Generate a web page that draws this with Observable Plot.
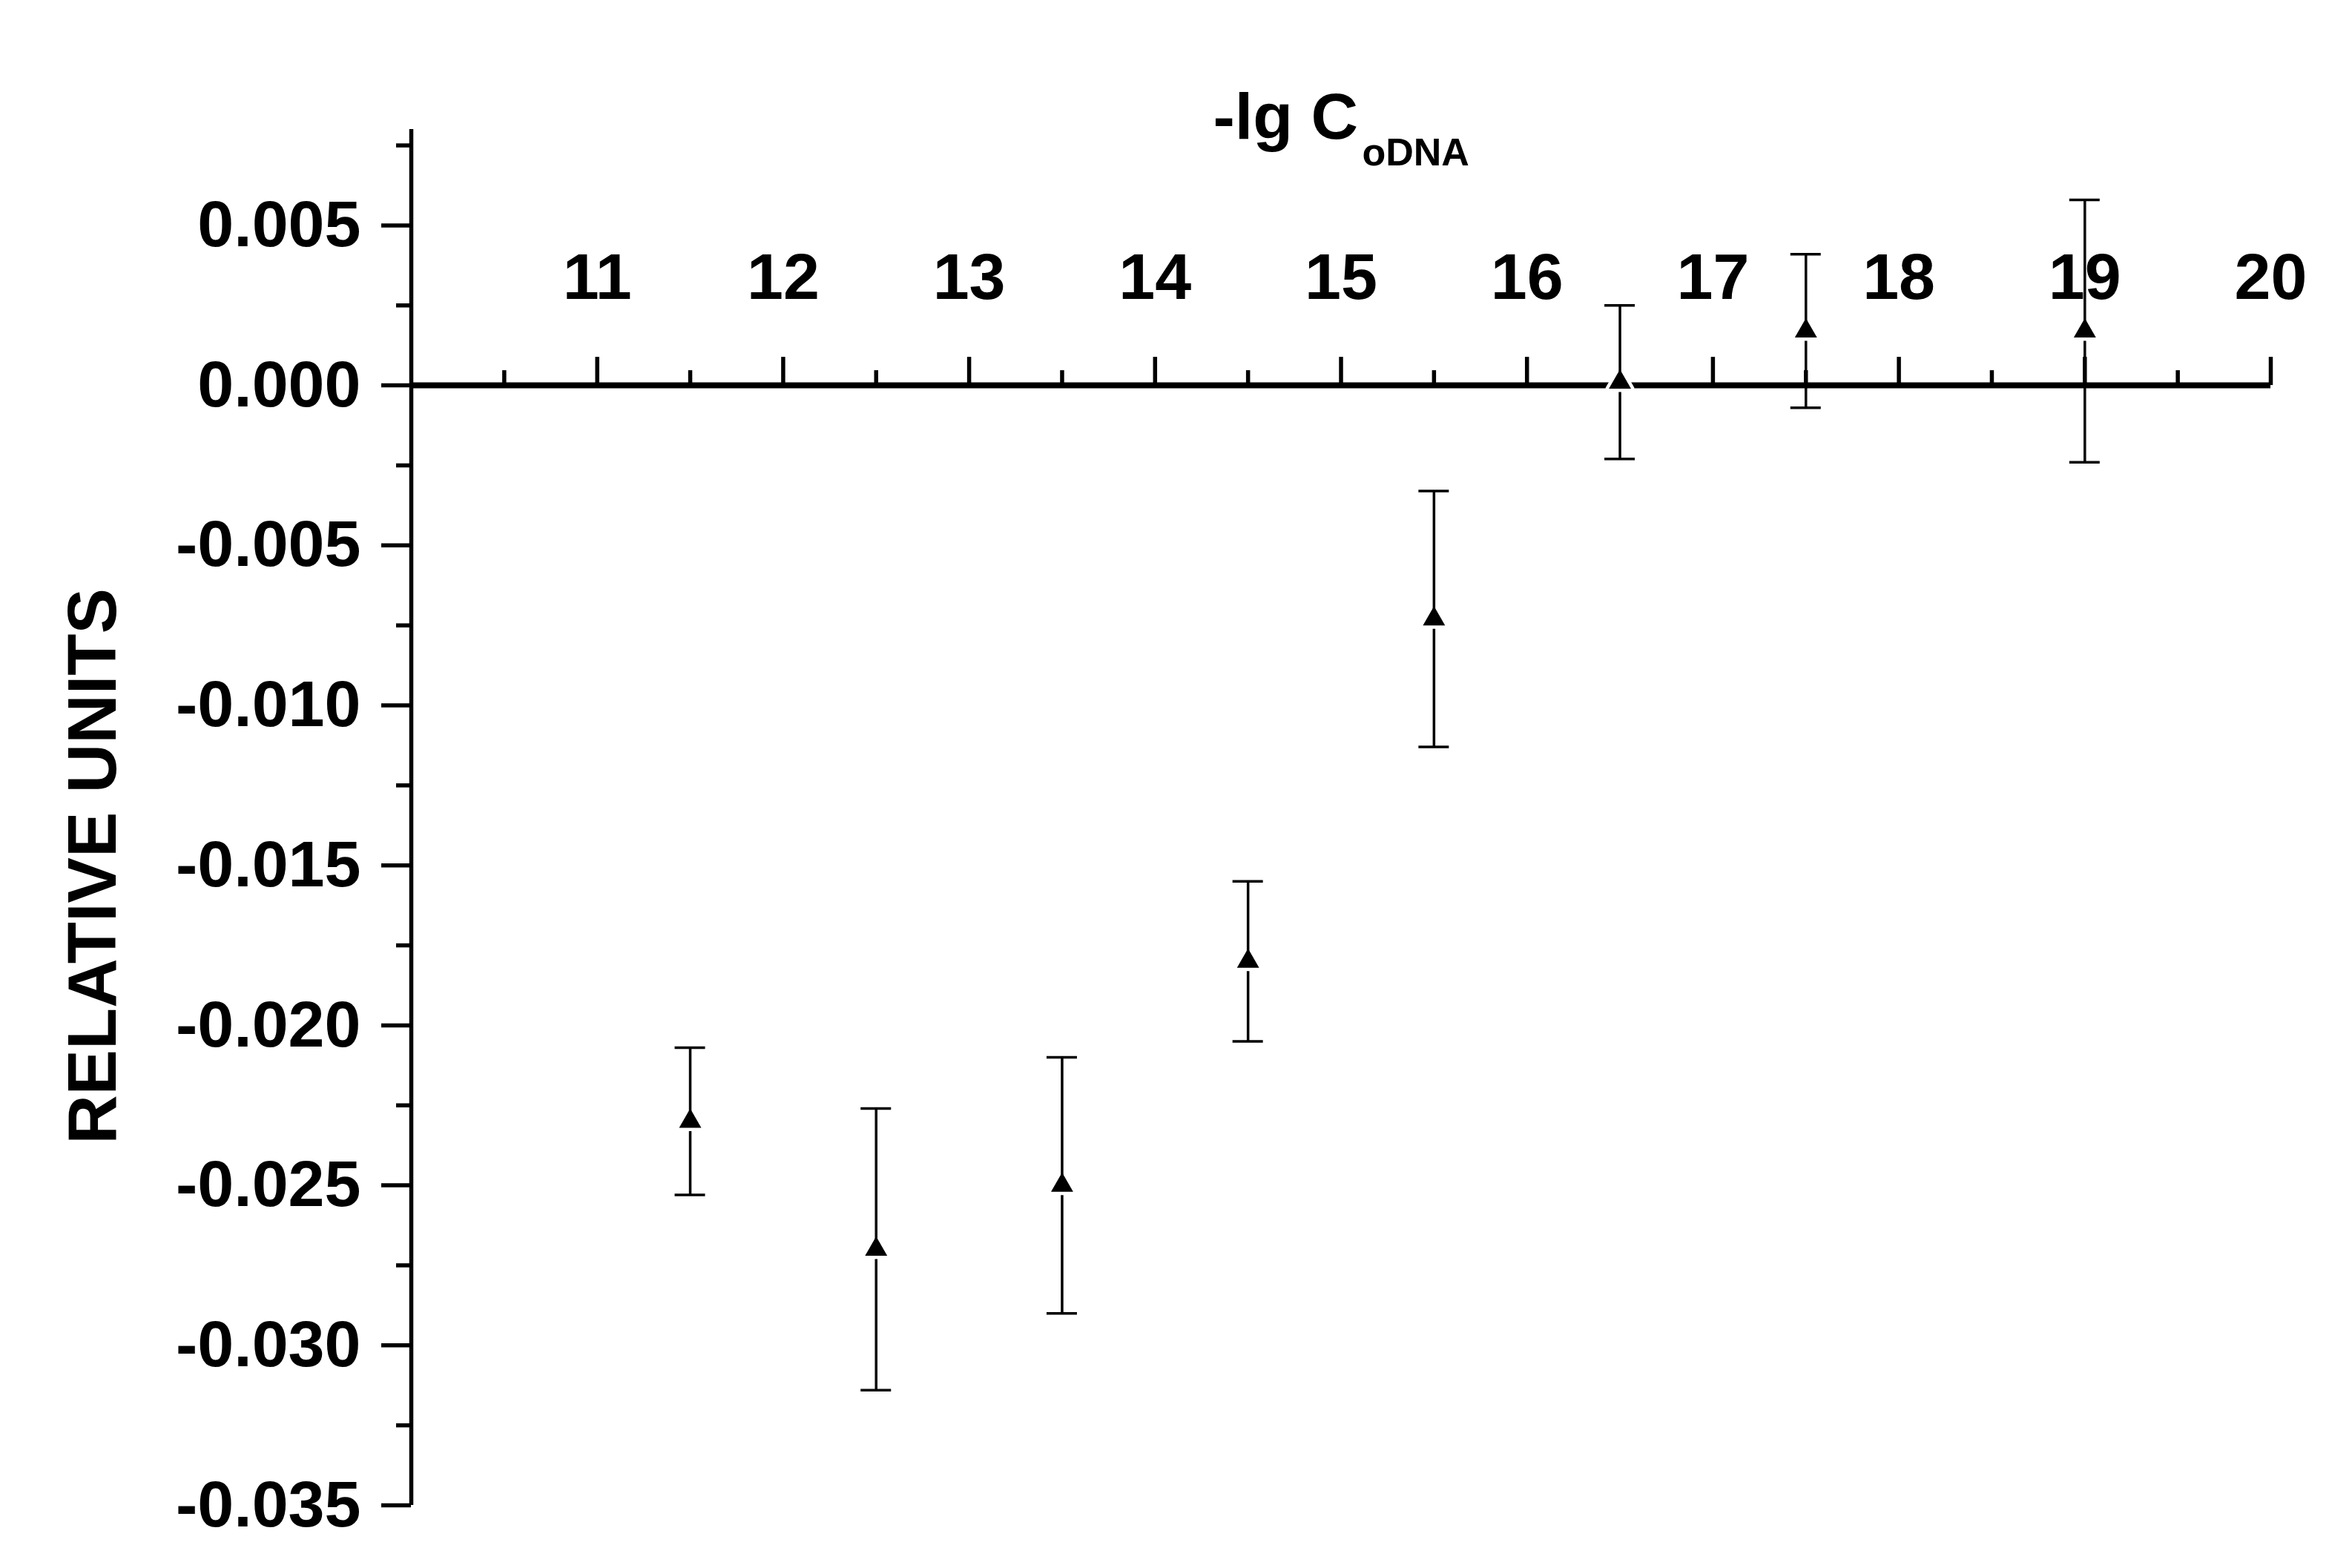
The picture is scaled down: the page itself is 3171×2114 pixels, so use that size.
<!DOCTYPE html>
<html>
<head>
<meta charset="utf-8">
<script src="https://cdn.jsdelivr.net/npm/d3@7"></script>
<script src="https://cdn.jsdelivr.net/npm/@observablehq/plot@0.6"></script>
<style>
  html, body { margin: 0; padding: 0; background: #fff; }
  #chart svg { display: block; }
</style>
</head>
<body>
<div id="chart"></div>
<script>
// ---- data ----
const concentration = [11.5, 12.5, 13.5, 14.5, 15.5, 16.5, 17.5, 19.0];
const relativeUnits = [-0.0230, -0.0270, -0.0250, -0.0180, -0.0073, 0.0001, 0.0017, 0.0017];
const errorHalf     = [0.0023, 0.0044, 0.0040, 0.0025, 0.0040, 0.0024, 0.0024, 0.0041];

const xDomain = [10, 20];
const yDomain = [-0.035, 0.008];
const xMajorTicks = [11, 12, 13, 14, 15, 16, 17, 18, 19, 20];
const xMinorTicks = [10.5, 11.5, 12.5, 13.5, 14.5, 15.5, 16.5, 17.5, 18.5, 19.5];
const yMajorTicks = [-0.035, -0.030, -0.025, -0.020, -0.015, -0.010, -0.005, 0.000, 0.005];
const yMinorTicks = [-0.0325, -0.0275, -0.0225, -0.0175, -0.0125, -0.0075, -0.0025, 0.0025, 0.0075];

const xTitle = "-lg C";
const xTitleSub = "oDNA";
const yTitle = "RELATIVE UNITS";

const rows = concentration.map((x, i) => ({
  x,
  y: relativeUnits[i],
  lo: relativeUnits[i] - errorHalf[i],
  hi: relativeUnits[i] + errorHalf[i]
}));

const font = "'Liberation Sans', Arial, Helvetica, sans-serif";

const chart = Plot.plot({
  width: 3171,
  height: 2114,
  marginLeft: 554,
  marginRight: 110,
  marginTop: 174,
  marginBottom: 85,
  style: { fontFamily: font, background: "white", color: "black", overflow: "visible" },
  x: { domain: xDomain, axis: null },
  y: { domain: yDomain, axis: null },
  marks: [
    // horizontal axis line at y = 0
    Plot.ruleY([0], { x1: xDomain[0], x2: xDomain[1], stroke: "black", strokeWidth: 8 }),
    // x ticks pointing up from the zero line
    Plot.ruleX(xMajorTicks, { x: d => d, y1: 0, y2: 0, insetTop: -38, insetBottom: 0, stroke: "black", strokeWidth: 5.5 }),
    Plot.ruleX(xMinorTicks, { x: d => d, y1: 0, y2: 0, insetTop: -20, insetBottom: 0, stroke: "black", strokeWidth: 5.5 }),
    // x tick labels above the line
    Plot.text(xMajorTicks, { x: d => d, y: 0, text: d => String(d), dy: -145, fontSize: 88, fontWeight: "bold", fill: "black" }),
    // vertical axis line
    Plot.ruleX([xDomain[0]], { y1: yDomain[0], y2: yDomain[1], stroke: "black", strokeWidth: 5.5 }),
    // y axis (major with labels, minor without)
    Plot.axisY(yMajorTicks, {
      anchor: "left", tickSize: 40, tickPadding: 28, strokeWidth: 5.5,
      fontSize: 88, fontWeight: "bold", tickFormat: d => d.toFixed(3), label: null
    }),
    Plot.axisY(yMinorTicks, {
      anchor: "left", tickSize: 20, strokeWidth: 5.5, tickFormat: () => "", label: null
    }),
    // lower half of error bars
    Plot.ruleX(rows, { x: "x", y1: "lo", y2: "y", stroke: "black", strokeWidth: 3.5 }),
    // caps
    Plot.ruleY(rows, { y: "hi", x1: "x", x2: "x", insetLeft: -20.5, insetRight: -20.5, stroke: "black", strokeWidth: 3.5 }),
    Plot.ruleY(rows, { y: "lo", x1: "x", x2: "x", insetLeft: -20.5, insetRight: -20.5, stroke: "black", strokeWidth: 3.5 }),
    // triangle markers with a thin white halo
    Plot.dot(rows, { x: "x", y: "y", symbol: "triangle", r: 11.1, fill: "black", stroke: "white", strokeWidth: 9, strokeLinejoin: "round", paintOrder: "stroke" }),
    // upper half of error bars
    Plot.ruleX(rows, { x: "x", y1: "y", y2: "hi", stroke: "black", strokeWidth: 3.5 }),
    // axis titles
    Plot.text([xTitle], { text: d => d, frameAnchor: "top-left", textAnchor: "start", lineAnchor: "bottom", dx: 1081, dy: 12, fontSize: 88, fontWeight: "bold", fill: "black" }),
    Plot.text([xTitleSub], { text: d => d, frameAnchor: "top-left", textAnchor: "start", lineAnchor: "bottom", dx: 1282, dy: 48, fontSize: 52, fontWeight: "bold", fill: "black" }),
    Plot.text([yTitle], { text: d => d, frameAnchor: "left", rotate: -90, textAnchor: "middle", lineAnchor: "middle", dx: -428, dy: 66, fontSize: 92, fontWeight: "bold", fill: "black" })
  ]
});

document.getElementById("chart").appendChild(chart);
</script>
</body>
</html>
